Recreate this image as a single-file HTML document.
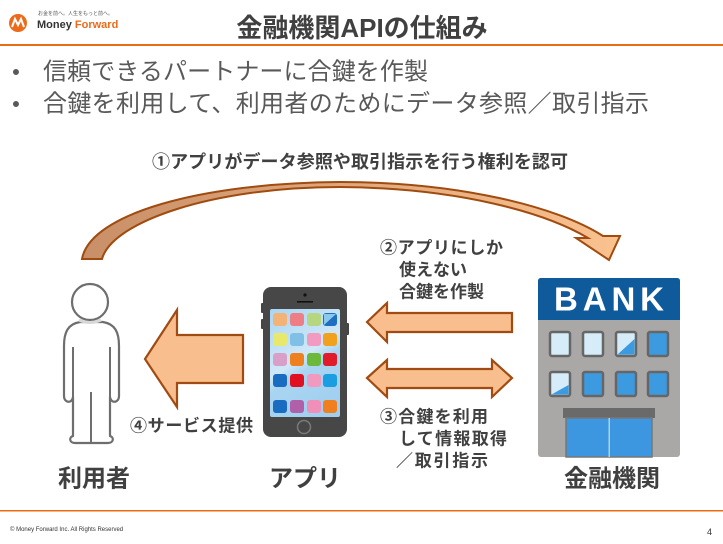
<!DOCTYPE html>
<html><head><meta charset="utf-8"><style>
html,body{margin:0;padding:0;background:#fff;}
svg{display:block;}
text{font-family:"Liberation Sans","Noto Sans CJK JP",sans-serif;}
</style></head><body>
<svg width="723" height="544" viewBox="0 0 723 544" xmlns="http://www.w3.org/2000/svg">
<defs>
<linearGradient id="cg" x1="80" y1="0" x2="620" y2="0" gradientUnits="userSpaceOnUse">
<stop offset="0" stop-color="#c88f68"/><stop offset="1" stop-color="#fac28f"/>
</linearGradient>
<linearGradient id="scr" x1="270" y1="309" x2="340" y2="417" gradientUnits="userSpaceOnUse">
<stop offset="0" stop-color="#a9d5f2"/><stop offset="0.45" stop-color="#cfe8f8"/><stop offset="0.55" stop-color="#a9d5f2"/><stop offset="1" stop-color="#9fcdee"/>
</linearGradient>
</defs>

<!-- header -->
<circle cx="18" cy="23" r="9" fill="#ec6a1a"/>
<path d="M12 27 L15 19 L18 25 L21 19 L24 27" fill="none" stroke="#fff" stroke-width="2"/>
<text x="38" y="14" font-size="5" fill="#555" dominant-baseline="central">お金を前へ。人生をもっと前へ。</text>
<text x="37" y="25" font-size="11" font-weight="bold" fill="#333" dominant-baseline="central">Money <tspan fill="#ec6a1a">Forward</tspan></text>
<text x="362" y="28" font-size="26" font-weight="bold" fill="#404040" text-anchor="middle" dominant-baseline="central">金融機関APIの仕組み</text>
<rect x="0" y="44" width="723" height="2" fill="#e96c15"/>

<text x="16" y="72" font-size="22" fill="#595959" text-anchor="middle" dominant-baseline="central">•</text>
<text x="43" y="72" font-size="24" fill="#595959" dominant-baseline="central" textLength="385" lengthAdjust="spacing">信頼できるパートナーに合鍵を作製</text>
<text x="16" y="104" font-size="22" fill="#595959" text-anchor="middle" dominant-baseline="central">•</text>
<text x="43" y="104" font-size="24" fill="#595959" dominant-baseline="central" textLength="606" lengthAdjust="spacing">合鍵を利用して、利用者のためにデータ参照／取引指示</text>

<text x="152" y="162" font-size="18" font-weight="bold" fill="#404040" dominant-baseline="central" textLength="416" lengthAdjust="spacing">①アプリがデータ参照や取引指示を行う権利を認可</text>

<!-- curved arrow -->
<path d="M82 259 C90 214,200 183,340 182 C460 182,558 207,603 236 L620 236 L609 260 L576 238 L588 238 C546 213,460 188,340 187 C212 187,112 222,102 259 Z" fill="url(#cg)" stroke="#a04b10" stroke-width="2" stroke-linejoin="miter"/>

<!-- person -->
<path d="M80 322 C68 324 64 332 64 346 L64 396 C64 403 72 404 73 397 L73 436 C69 437 69 443 75 443 L108 443 C114 443 114 437 110 436 L110 397 C111 404 119 403 119 396 L119 346 C119 332 115 324 103 322 Z" fill="#fff" stroke="#6e6e6e" stroke-width="2.2" stroke-linejoin="round"/>
<path d="M73 347 L73 397 M110 347 L110 397 M91 392 L91 443" fill="none" stroke="#6e6e6e" stroke-width="2"/>
<circle cx="90" cy="302" r="18" fill="#fff" stroke="#6e6e6e" stroke-width="2.2"/>
<path d="M79 320 Q90 325 101 320" fill="none" stroke="#d8d8d8" stroke-width="3"/>

<!-- big left arrow -->
<path d="M145 359 L177 310 L177 335 L243 335 L243 383 L177 383 L177 407 Z" fill="#f8be8e" stroke="#a04b12" stroke-width="2.2" stroke-linejoin="miter"/>
<text x="130" y="426" font-size="17" font-weight="bold" fill="#404040" dominant-baseline="central" textLength="123" lengthAdjust="spacing">④サービス提供</text>

<!-- phone -->
<rect x="261" y="303" width="4" height="10" rx="1" fill="#444"/>
<rect x="261" y="319" width="4" height="10" rx="1" fill="#444"/>
<rect x="345" y="323" width="4" height="12" rx="1" fill="#444"/>
<rect x="263" y="287" width="84" height="150" rx="8" fill="#474747"/>
<circle cx="305" cy="295" r="1.6" fill="#111"/>
<rect x="297" y="301" width="16" height="1.6" fill="#111"/>
<rect x="270" y="309" width="70" height="108" rx="2" fill="url(#scr)"/>
<circle cx="304" cy="427" r="6.5" fill="none" stroke="#7a7a7a" stroke-width="1.5"/>
<g>
<rect x="273" y="313" width="14" height="13" rx="3" fill="#f3b276"/>
<rect x="290" y="313" width="14" height="13" rx="3" fill="#ee7e86"/>
<rect x="307" y="313" width="14" height="13" rx="3" fill="#b6d680"/>
<rect x="323" y="313" width="14" height="13" rx="3" fill="#1e6fc0"/>
<path d="M324 314 L336 314 L324 325 Z" fill="#8cc8ee"/>
<rect x="273" y="333" width="14" height="13" rx="3" fill="#e8e86c"/>
<rect x="290" y="333" width="14" height="13" rx="3" fill="#80c0e6"/>
<rect x="307" y="333" width="14" height="13" rx="3" fill="#f19bc0"/>
<rect x="323" y="333" width="14" height="13" rx="3" fill="#f0a11e"/>
<rect x="273" y="353" width="14" height="13" rx="3" fill="#d8a0c8"/>
<rect x="290" y="353" width="14" height="13" rx="3" fill="#ee8020"/>
<rect x="307" y="353" width="14" height="13" rx="3" fill="#6cb83a"/>
<rect x="323" y="353" width="14" height="13" rx="3" fill="#e01b2a"/>
<rect x="273" y="374" width="14" height="13" rx="3" fill="#1a6cc0"/>
<rect x="290" y="374" width="14" height="13" rx="3" fill="#e01020"/>
<rect x="307" y="374" width="14" height="13" rx="3" fill="#f09ac0"/>
<rect x="323" y="374" width="14" height="13" rx="3" fill="#1a9ee0"/>
<rect x="273" y="400" width="14" height="13" rx="3" fill="#1a6cc0"/>
<rect x="290" y="400" width="14" height="13" rx="3" fill="#b060a8"/>
<rect x="307" y="400" width="14" height="13" rx="3" fill="#f090b8"/>
<rect x="323" y="400" width="14" height="13" rx="3" fill="#ee8020"/>
</g>

<!-- middle arrows -->
<path d="M367 322 L387 303 L387 313 L512 313 L512 332 L387 332 L387 342 Z" fill="#f8be8e" stroke="#a04b12" stroke-width="2.2"/>
<path d="M367 378 L387 360 L387 369 L492 369 L492 360 L512 378 L492 397 L492 388 L387 388 L387 397 Z" fill="#f8be8e" stroke="#a04b12" stroke-width="2.2"/>

<text x="380" y="248" font-size="17" font-weight="bold" fill="#404040" dominant-baseline="central" textLength="123" lengthAdjust="spacing">②アプリにしか</text>
<text x="399" y="270" font-size="17" font-weight="bold" fill="#404040" dominant-baseline="central">使えない</text>
<text x="399" y="292" font-size="17" font-weight="bold" fill="#404040" dominant-baseline="central">合鍵を作製</text>

<text x="380" y="417" font-size="17" font-weight="bold" fill="#404040" dominant-baseline="central" textLength="108" lengthAdjust="spacing">③合鍵を利用</text>
<text x="399" y="439" font-size="17" font-weight="bold" fill="#404040" dominant-baseline="central" textLength="108" lengthAdjust="spacing">して情報取得</text>
<text x="396" y="461" font-size="17" font-weight="bold" fill="#404040" dominant-baseline="central" textLength="92" lengthAdjust="spacing">／取引指示</text>

<!-- bank -->
<rect x="538" y="278" width="142" height="179" rx="3" fill="#a9a8a6"/>
<path d="M541 278 L677 278 Q680 278 680 281 L680 320 L538 320 L538 281 Q538 278 541 278 Z" fill="#0f5a9a"/>
<text x="609" y="299" font-size="33" font-weight="bold" fill="#fff" text-anchor="middle" dominant-baseline="central" textLength="110" lengthAdjust="spacing">BANK</text>
<g stroke="#666" stroke-width="2.5">
<rect x="550" y="332" width="20" height="24" rx="2" fill="#d6ecf9"/>
<rect x="583" y="332" width="20" height="24" rx="2" fill="#d6ecf9"/>
<rect x="616" y="332" width="20" height="24" rx="2" fill="#d6ecf9"/>
<rect x="648" y="332" width="20" height="24" rx="2" fill="#3c9ae0"/>
<rect x="550" y="372" width="20" height="24" rx="2" fill="#d6ecf9"/>
<rect x="583" y="372" width="20" height="24" rx="2" fill="#3c9ae0"/>
<rect x="616" y="372" width="20" height="24" rx="2" fill="#3c9ae0"/>
<rect x="648" y="372" width="20" height="24" rx="2" fill="#3c9ae0"/>
</g>
<path d="M617.5 354.5 L634.5 339 L634.5 354.5 Z" fill="#3c9ae0"/>
<path d="M551.5 394.5 L568.5 385 L568.5 394.5 Z" fill="#3c9ae0"/>
<rect x="563" y="408" width="92" height="10" fill="#6a6a6a"/>
<rect x="566" y="418" width="86" height="39" fill="#3d97e0" stroke="#777" stroke-width="1.5"/>
<rect x="608.5" y="418" width="1.5" height="39" fill="#a8d4f2"/>

<text x="94" y="479" font-size="24" font-weight="bold" fill="#404040" text-anchor="middle" dominant-baseline="central">利用者</text>
<text x="305" y="479" font-size="24" font-weight="bold" fill="#404040" text-anchor="middle" dominant-baseline="central">アプリ</text>
<text x="612" y="479" font-size="24" font-weight="bold" fill="#404040" text-anchor="middle" dominant-baseline="central">金融機関</text>

<!-- footer -->
<rect x="0" y="510" width="723" height="1.5" fill="#e96c15"/>
<text x="10" y="530" font-size="6" fill="#333" dominant-baseline="central">© Money Forward Inc. All Rights Reserved</text>
<text x="707" y="532" font-size="9" fill="#333" dominant-baseline="central">4</text>
</svg>
</body></html>
